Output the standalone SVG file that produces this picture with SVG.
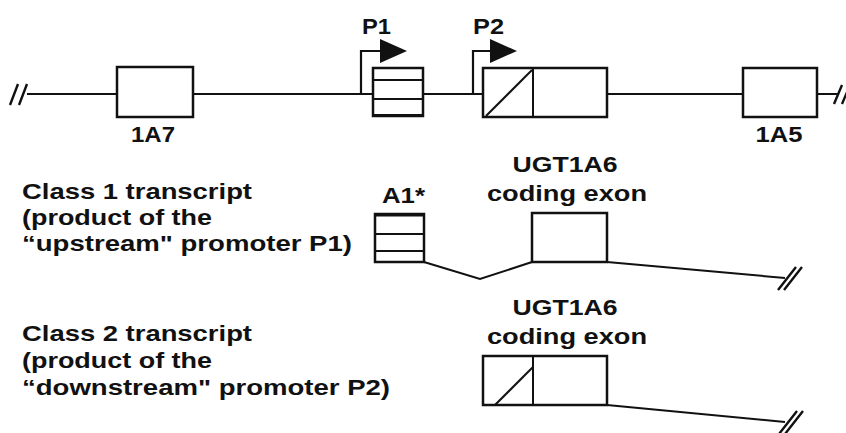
<svg xmlns="http://www.w3.org/2000/svg" width="846" height="433" viewBox="0 0 846 433">
  <style>
    text { font-family: "Liberation Sans", Arial, sans-serif; font-weight: bold; font-size: 22px; fill: #111; }
    .mid { text-anchor: middle; }
    .exon { fill: #fff; stroke: #111; stroke-width: 2.5; }
    .ln { fill: none; stroke: #111; stroke-width: 2.2; }
    .thin { fill: none; stroke: #111; stroke-width: 2; }
    .brk { fill: none; stroke: #111; stroke-width: 2.4; }
  </style>
  <defs>
    <polygon id="arrowhead" points="0,-12 27,0 0,12" fill="#111"/>
  </defs>
  <rect width="846" height="433" fill="#fff"/>

  <!-- connectors: genomic backbone, introns and promoter arrows -->
  <g id="connectors">
    <line class="ln" x1="27" y1="94" x2="838" y2="94"/>
    <path class="brk" d="M10,105 L18,84 M19,105 L27,84"/>
    <path class="brk" d="M834,104 L842,85 M842,104 L850,85"/>
    <!-- P1 promoter arrow -->
    <path class="ln" d="M361,94 V51 H382"/>
    <use href="#arrowhead" x="380" y="51"/>
    <!-- P2 promoter arrow -->
    <path class="ln" d="M473,94 V51 H492"/>
    <use href="#arrowhead" x="490" y="51"/>
    <!-- class 1 splicing -->
    <path class="thin" d="M424,262 L480,279 L532,262"/>
    <line class="thin" x1="607" y1="262" x2="785" y2="278"/>
    <path class="brk" d="M778,290 L796,267 M784,290 L802,267"/>
    <!-- class 2 tail -->
    <line class="thin" x1="607" y1="405" x2="785" y2="422"/>
    <path class="brk" d="M779,434 L797,411 M785,434 L803,411"/>
  </g>

  <g id="exon-1A7">
    <rect class="exon" x="117" y="67" width="76" height="50"/>
    <text class="mid" x="153" y="142" textLength="44" lengthAdjust="spacingAndGlyphs">1A7</text>
  </g>

  <g id="exon-P1">
    <rect class="exon" x="373" y="68" width="50" height="48"/>
    <line class="thin" x1="373" y1="80" x2="423" y2="80"/>
    <line class="thin" x1="373" y1="99" x2="423" y2="99"/>
    <line x1="373" y1="115.5" x2="423" y2="115.5" stroke="#111" stroke-width="3"/>
    <text x="362" y="34" textLength="29" lengthAdjust="spacingAndGlyphs">P1</text>
  </g>

  <g id="exon-P2">
    <rect class="exon" x="483" y="68" width="124" height="49"/>
    <line class="thin" x1="533" y1="68" x2="533" y2="117"/>
    <line class="thin" x1="486" y1="116" x2="532" y2="70"/>
    <text x="473" y="34" textLength="31" lengthAdjust="spacingAndGlyphs">P2</text>
  </g>

  <g id="exon-1A5">
    <rect class="exon" x="743" y="68" width="74" height="49"/>
    <text class="mid" x="779" y="142" textLength="47" lengthAdjust="spacingAndGlyphs">1A5</text>
  </g>

  <g id="class1-label">
    <text x="22" y="199" textLength="230" lengthAdjust="spacingAndGlyphs">Class 1 transcript</text>
    <text x="22" y="225" textLength="190" lengthAdjust="spacingAndGlyphs">(product of the</text>
    <text x="22" y="251" textLength="330" lengthAdjust="spacingAndGlyphs">“upstream" promoter P1)</text>
  </g>

  <g id="class1-A1">
    <rect class="exon" x="375" y="214" width="49" height="48"/>
    <line x1="375" y1="215" x2="424" y2="215" stroke="#111" stroke-width="3"/>
    <line class="thin" x1="375" y1="234" x2="424" y2="234"/>
    <line class="thin" x1="375" y1="251" x2="424" y2="251"/>
    <text x="382" y="203" textLength="43" lengthAdjust="spacingAndGlyphs">A1*</text>
  </g>

  <g id="class1-coding">
    <rect class="exon" x="532" y="213" width="75" height="49"/>
    <text class="mid" x="565" y="172" textLength="105" lengthAdjust="spacingAndGlyphs">UGT1A6</text>
    <text class="mid" x="567" y="201" textLength="160" lengthAdjust="spacingAndGlyphs">coding exon</text>
  </g>

  <g id="class2-label">
    <text x="22" y="341" textLength="230" lengthAdjust="spacingAndGlyphs">Class 2 transcript</text>
    <text x="22" y="368" textLength="190" lengthAdjust="spacingAndGlyphs">(product of the</text>
    <text x="22" y="395" textLength="368" lengthAdjust="spacingAndGlyphs">“downstream" promoter P2)</text>
  </g>

  <g id="class2-coding">
    <rect class="exon" x="483" y="356" width="124" height="49"/>
    <line class="thin" x1="533" y1="356" x2="533" y2="405"/>
    <line class="thin" x1="495" y1="405" x2="533" y2="367"/>
    <text class="mid" x="565" y="315" textLength="105" lengthAdjust="spacingAndGlyphs">UGT1A6</text>
    <text class="mid" x="567" y="344" textLength="160" lengthAdjust="spacingAndGlyphs">coding exon</text>
  </g>
</svg>
